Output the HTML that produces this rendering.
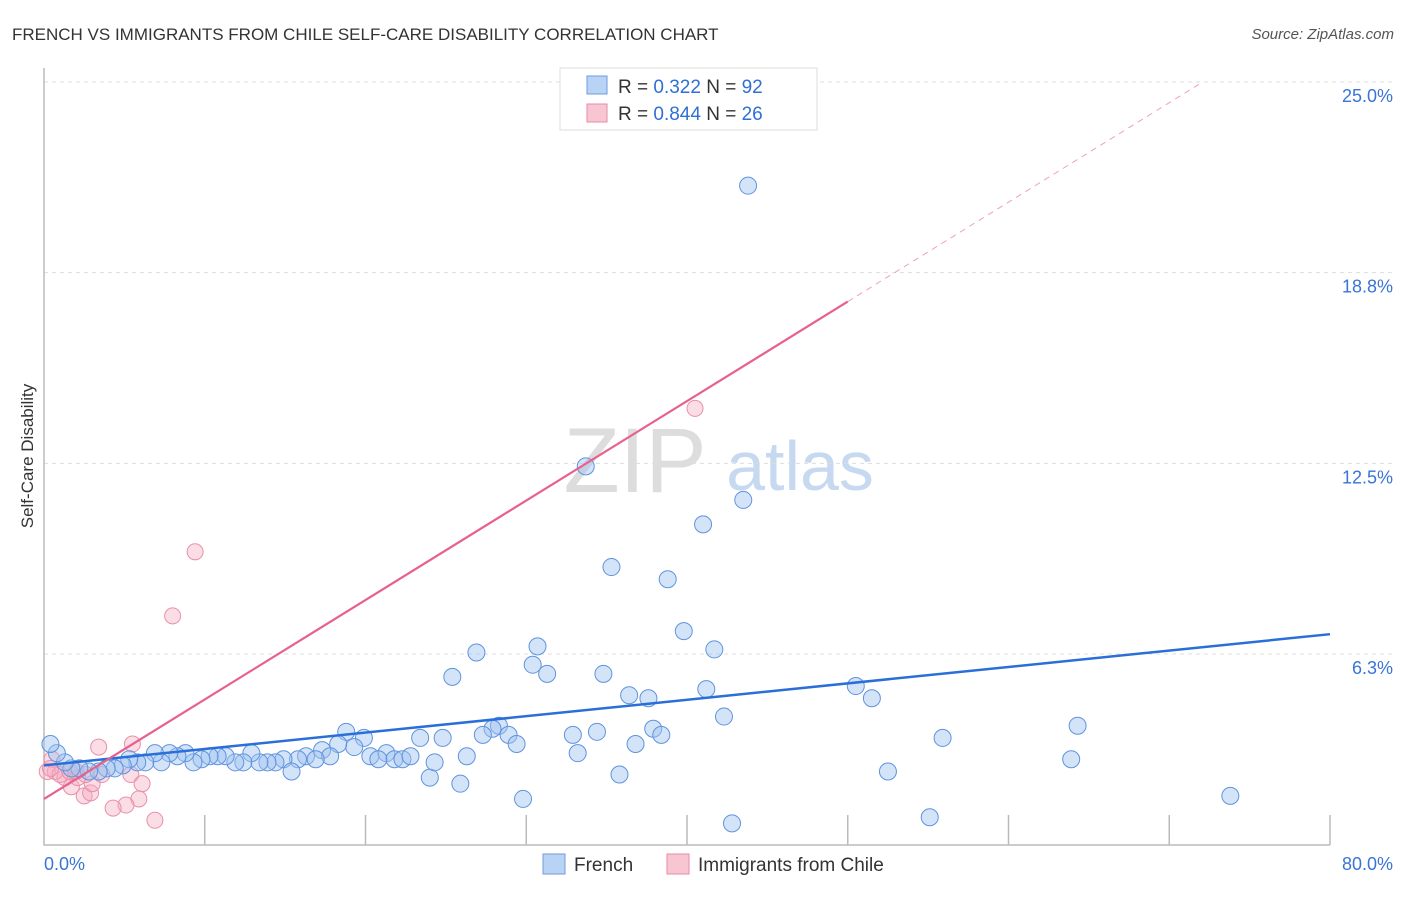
<!DOCTYPE html>
<html><head><meta charset="utf-8"><style>
body{margin:0;background:#fff;font-family:"Liberation Sans",sans-serif;}
svg text{font-family:"Liberation Sans",sans-serif;}
</style></head><body>
<svg id="chart" width="1406" height="892">
<text x="12" y="40" font-size="17" fill="#333">FRENCH VS IMMIGRANTS FROM CHILE SELF-CARE DISABILITY CORRELATION CHART</text>
<text x="1394" y="39" font-size="15" fill="#555" font-style="italic" text-anchor="end">Source: ZipAtlas.com</text>
<text x="33" y="456" font-size="17" fill="#333" text-anchor="middle" transform="rotate(-90 33 456)">Self-Care Disability</text>
<g><text x="635" y="492" font-size="92" fill="#ddd" font-family="Liberation Serif" text-anchor="middle">ZIP</text><text x="800" y="490" font-size="70" fill="#c6d9f0" text-anchor="middle">atlas</text></g>
<g id="grid"></g><g id="axes"></g><g id="pts"></g><g id="trend"></g>
<g>
<rect x="560" y="68" width="257" height="62" fill="#fff" stroke="#ddd"/>
<rect x="587" y="76" width="20" height="18" fill="#b9d3f5" stroke="#6e9be0"/>
<text x="618" y="93" font-size="19" fill="#333">R = <tspan fill="#2f6fd6">0.322</tspan>   N = <tspan fill="#2f6fd6">92</tspan></text>
<rect x="587" y="104" width="20" height="18" fill="#f8c6d3" stroke="#e88aa5"/>
<text x="618" y="120" font-size="19" fill="#333">R = <tspan fill="#2f6fd6">0.844</tspan>   N = <tspan fill="#2f6fd6">26</tspan></text>
</g>
<g>
<rect x="543" y="854" width="22" height="20" fill="#b9d3f5" stroke="#6e9be0"/>
<text x="574" y="871" font-size="19" fill="#333">French</text>
<rect x="667" y="854" width="22" height="20" fill="#f8c6d3" stroke="#e88aa5"/>
<text x="698" y="871" font-size="19" fill="#333">Immigrants from Chile</text>
</g>
</svg>
<script>
const yTicks=[6.25,12.5,18.75,25];
const yTickLabels=["6.3%","12.5%","18.8%","25.0%"];
const xTicks=[0,10,20,30,40,50,60,70,80];
const frenchX=[43.8,33.7,43.5,41.0,35.3,38.8,39.8,30.7,26.9,41.7,30.4,31.3,34.8,25.4,41.2,36.4,37.6,50.5,51.5,42.3,64.3,28.3,27.9,27.3,28.9,29.4,32.9,34.4,37.9,38.4,36.8,33.2,55.9,63.9,52.5,35.8,73.8,55.1,42.8,29.8,25.9,24.0,26.3,24.3,24.8,23.4,18.8,19.9,19.3,18.3,17.3,21.3,20.3,21.8,22.3,22.8,20.8,17.8,16.3,16.9,15.8,14.9,15.4,14.4,13.9,13.4,12.9,12.4,11.9,11.3,10.8,10.3,9.8,9.3,8.8,8.3,7.8,7.3,6.9,6.3,5.8,5.3,4.9,4.4,3.9,3.4,2.8,2.2,1.7,1.3,0.8,0.4];
const frenchY=[21.6,12.4,11.3,10.5,9.1,8.7,7.0,6.5,6.3,6.4,5.9,5.6,5.6,5.5,5.1,4.9,4.8,5.2,4.8,4.2,3.9,3.9,3.8,3.6,3.6,3.3,3.6,3.7,3.8,3.6,3.3,3.0,3.5,2.8,2.4,2.3,1.6,0.9,0.7,1.5,2.0,2.2,2.9,2.7,3.5,3.5,3.7,3.5,3.2,3.3,3.1,3.0,2.9,2.8,2.8,2.9,2.8,2.9,2.9,2.8,2.8,2.8,2.4,2.7,2.7,2.7,3.0,2.7,2.7,2.9,2.9,2.9,2.8,2.7,3.0,2.9,3.0,2.7,3.0,2.7,2.7,2.8,2.6,2.5,2.5,2.4,2.4,2.5,2.5,2.7,3.0,3.3];
const chileX=[40.5,9.4,8.0,5.5,3.4,5.4,6.1,5.9,5.1,4.3,6.9,2.5,2.9,3.0,1.7,1.3,2.1,2.6,0.7,0.2,1.0,1.6,3.6,0.5,0.4,2.0];
const chileY=[14.3,9.6,7.5,3.3,3.2,2.3,2.0,1.5,1.3,1.2,0.8,1.6,1.7,2.0,1.9,2.2,2.2,2.3,2.4,2.4,2.3,2.4,2.3,2.8,2.5,2.4];
const frenchTrend=[2.6,6.9];   // value at x=0, x=80
const chileTrend=[1.5,0.326];  // intercept, slope
const X=v=>44+v*16.075, Y=v=>844.7-v*30.51;
const NS="http://www.w3.org/2000/svg";
function mk(tag,attrs,parent){const e=document.createElementNS(NS,tag);for(const k in attrs)e.setAttribute(k,attrs[k]);document.getElementById(parent).appendChild(e);return e;}
yTicks.forEach((t,i)=>{
 const l=mk('line',{x1:44,x2:1395,y1:Y(t),y2:Y(t),stroke:'#ddd','stroke-dasharray':'4,4'},'grid');
 
 
 const tx=mk('text',{x:1393,y:Y(t)+20,'font-size':18,fill:'#3a74d6','text-anchor':'end'},'grid');
 tx.textContent=yTickLabels[i];
 
 
});
const ax=mk('path',{d:'M44 68V845H1330',stroke:'#bbb',fill:'none','stroke-width':1.5},'axes');


xTicks.forEach(t=>{if(t===0)return;
 const l=mk('line',{x1:X(t),x2:X(t),y1:815,y2:845,stroke:'#bbb','stroke-width':1.5},'axes');
 
 
});
const x0=mk('text',{x:44,y:870,'font-size':18,fill:'#3a74d6'},'axes');x0.textContent='0.0%';


const x1=mk('text',{x:1393,y:870,'font-size':18,fill:'#3a74d6','text-anchor':'end'},'axes');x1.textContent='80.0%';


chileX.forEach((v,i)=>{
 const c=mk('circle',{cx:X(v),cy:Y(chileY[i]),r:8,fill:'rgba(245,170,192,0.4)',stroke:'#e890aa','stroke-width':1},'pts');
 
 
});
frenchX.forEach((v,i)=>{
 const c=mk('circle',{cx:X(v),cy:Y(frenchY[i]),r:8.5,fill:'rgba(160,196,240,0.45)',stroke:'#5f93de','stroke-width':1},'pts');
 
 
});
const ft=mk('line',{x1:X(0),y1:Y(frenchTrend[0]),x2:X(80),y2:Y(frenchTrend[1]),stroke:'#2a6fd8','stroke-width':2.5},'trend');


const cy=x=>chileTrend[0]+chileTrend[1]*x;
const ct=mk('line',{x1:X(0),y1:Y(cy(0)),x2:X(50),y2:Y(cy(50)),stroke:'#e8608c','stroke-width':2.2},'trend');


const xe=(25-chileTrend[0])/chileTrend[1];
const cd=mk('line',{x1:X(50),y1:Y(cy(50)),x2:X(xe),y2:Y(25),stroke:'#f0a0b8','stroke-width':1,'stroke-dasharray':'6,5'},'trend');


</script>
</body></html>
